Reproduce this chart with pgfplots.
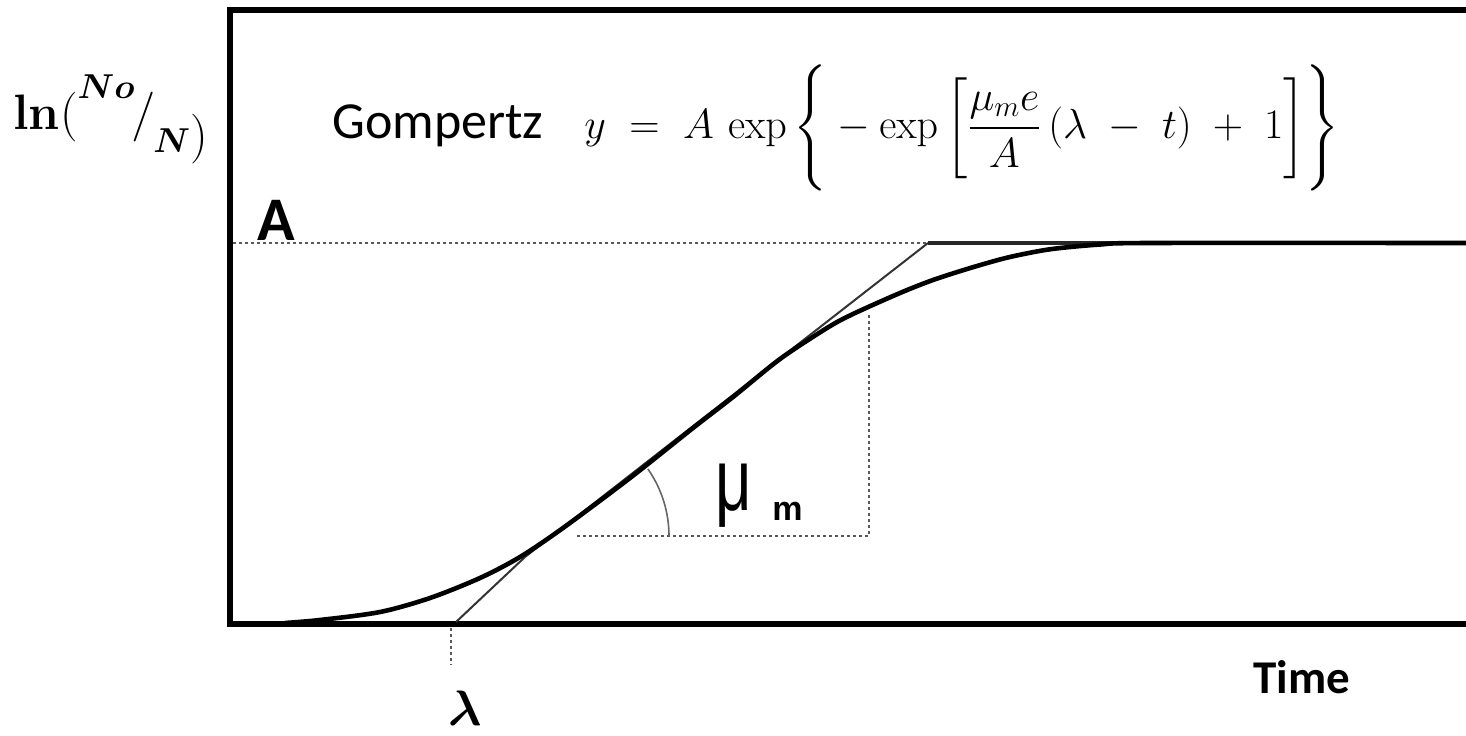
\documentclass[border=0pt]{standalone}
\usepackage[no-math]{fontspec}
\setmainfont{Carlito}
\newfontfamily\libsans{Liberation Sans}
\usepackage{amsmath,bm}
\usepackage{graphicx}
\usepackage{pgfplots}
\pgfplotsset{compat=1.18}

% coordinates are pixels of the original figure, y measured upwards
\pgfplotstableread{
x y
285 112
320 115
380 123
430 137
480 157
520 178
563 207
630 257
693 307
733 338
780 376
827 407
853 421
900 442
933 455
967 466
998 475
1019 480
1052 486
1100 490.5
1150 492
1466 492
}\gompertz

\begin{document}
\begin{tikzpicture}
\begin{axis}[
    x=0.5pt, y=0.5pt,
    xmin=230, xmax=1466,
    ymin=111, ymax=725,
    hide axis,
    clip=false,
]
\coordinate (bl) at (axis cs:0,0);
\coordinate (tr) at (axis cs:1466,735);

% frame (right side runs off the picture)
\addplot[black, line width=3pt, line join=miter] coordinates {
    (1466,725) (230,725) (230,111) (1466,111)
};

% asymptote A: dotted up to the tangent, then solid
\addplot[black!65, line width=1pt, dash pattern=on 1.5pt off 1.5pt] coordinates {
    (233,492) (928,492)
};
\addplot[black!85, line width=2.2pt] coordinates {
    (928,492) (1466,492)
};

% slope triangle
\addplot[black!65, line width=1pt, dash pattern=on 1.5pt off 1.5pt] coordinates {
    (577,199) (869,199) (869,422)
};

% lag time marker below the axis
\addplot[black!65, line width=1pt, dash pattern=on 1.5pt off 1.5pt] coordinates {
    (451,107) (451,70)
};

% tangent at the inflection
\addplot[black!80, line width=1pt] coordinates {
    (456,113) (525,178) (928,492)
};

% growth curve
\addplot[black, line width=2.3pt, smooth, tension=0.5] table[x=x, y=y] {\gompertz};

% angle arc
\draw[black!60, line width=0.8pt] (axis cs:669,199) arc[start angle=0, end angle=35, radius=58.5pt];

% texts
\node[anchor=base west, inner sep=0] at (axis cs:13,606)
    {\fontsize{26}{30}\selectfont
     $\mathbf{ln(}\raisebox{15.5pt}{\fontsize{19}{22}\selectfont$\bm{No}$}\mkern-1mu
      \mathbf{/}\mkern-1mu\raisebox{-11.5pt}{\fontsize{19}{22}\selectfont$\bm{N}$}
      \raisebox{-11pt}{$\mathbf{)}$}$};

\node[anchor=base west, inner sep=0] at (axis cs:332,596)
    {\fontsize{26}{30}\selectfont Gompertz};

\node[inner sep=0] at (axis cs:962,607)
    {\resizebox{377.5pt}{!}{\fontsize{27}{32}\selectfont$\displaystyle
      y \;=\; A\,\exp\left\{\rule[-25pt]{0pt}{64pt}-\exp\left[\rule[-23pt]{0pt}{60pt}\frac{\mu_m e}{A}\,(\lambda\;-\;t)\;+\;1\right]\right\}$}};

\node[anchor=base west, inner sep=0] at (axis cs:257,495)
    {\fontsize{31}{34}\selectfont\bfseries A};

\node[anchor=base west, inner sep=0] at (axis cs:1253,42)
    {\fontsize{23.5}{26}\selectfont\bfseries Time};

\node[anchor=base, inner sep=0] at (axis cs:465,10)
    {\fontsize{29}{33}\selectfont$\bm{\lambda}$};

\node[anchor=base west, inner sep=0] at (axis cs:715,225)
    {\libsans\fontsize{44}{48}\selectfont\scalebox{0.72}[1]{μ}};
\node[anchor=base west, inner sep=0] at (axis cs:772,215)
    {\libsans\fontsize{17}{20}\selectfont\bfseries m};

\end{axis}
\pgfresetboundingbox
\path (bl) rectangle (tr);
\end{tikzpicture}
\end{document}
